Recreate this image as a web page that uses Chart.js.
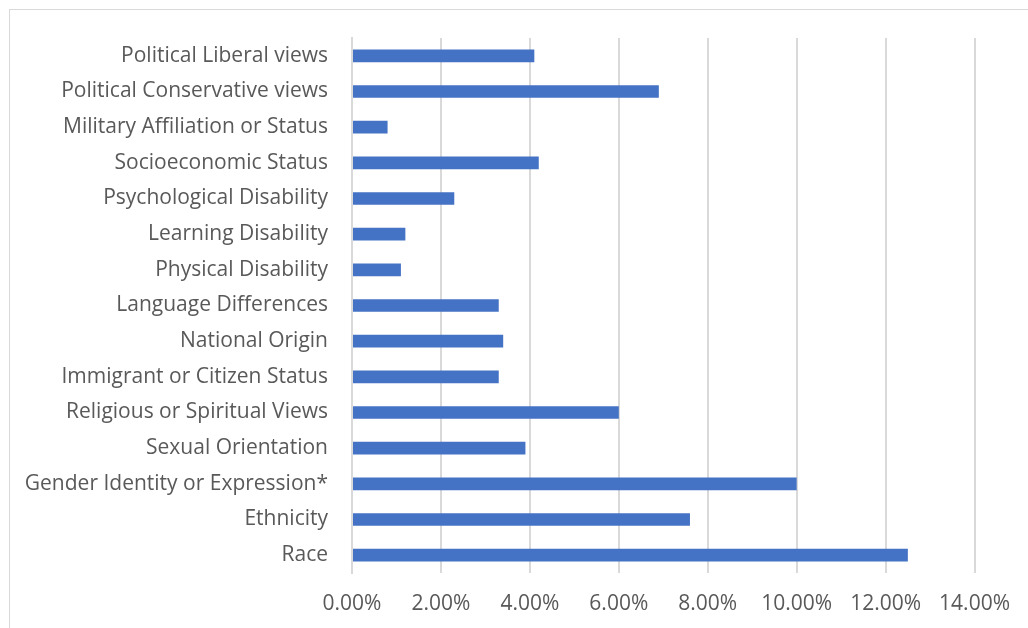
<!DOCTYPE html>
<html>
<head>
<meta charset="utf-8">
<script src="https://cdn.jsdelivr.net/npm/chart.js@4"></script>
<style>
    html, body { margin: 0; padding: 0; background: #ffffff; overflow: hidden; }
    .frame {
        position: absolute; left: 9px; top: 9px; width: 1100px; height: 700px;
        border: 1px solid #d9d9d9; box-sizing: border-box;
    }
    .chart-box { position: absolute; left: 0; top: 0; width: 1028px; height: 628px; }
</style>
</head>
<body>
<div class="frame"></div>
<div class="chart-box"><canvas id="bias_chart"></canvas></div>
<script>
const categories = [
    'Political Liberal views',
    'Political Conservative views',
    'Military Affiliation or Status',
    'Socioeconomic Status',
    'Psychological Disability',
    'Learning Disability',
    'Physical Disability',
    'Language Differences',
    'National Origin',
    'Immigrant or Citizen Status',
    'Religious or Spiritual Views',
    'Sexual Orientation',
    'Gender Identity or Expression*',
    'Ethnicity',
    'Race'
]

// percent of respondents
const percentages = [4.1, 6.9, 0.8, 4.2, 2.3, 1.2, 1.1, 3.3, 3.4, 3.3, 6.0, 3.9, 10.0, 7.6, 12.5]

const axisMax = 14
const axisStep = 2

const labelFont = { family: 'Open Sans', size: 21 }
const gridColor = '#d9d9d9'
const textColor = '#595959'

new Chart(document.getElementById('bias_chart'), {
    type: 'bar',
    data: {
        labels: categories,
        datasets: [{
            data: percentages,
            backgroundColor: '#4472c4',
            categoryPercentage: 1,
            barPercentage: 0.355
        }]
    },
    options: {
        indexAxis: 'y',
        responsive: true,
        maintainAspectRatio: false,
        animation: false,
        layout: { padding: { top: 38, right: 52, left: 0, bottom: 0 } },
        plugins: {
            legend: { display: false },
            tooltip: { enabled: false }
        },
        scales: {
            x: {
                min: 0,
                max: axisMax,
                ticks: {
                    stepSize: axisStep,
                    color: textColor,
                    font: labelFont,
                    padding: 18,
                    maxRotation: 0,
                    callback: value => value.toFixed(2) + '%'
                },
                grid: { color: gridColor, lineWidth: 2, drawTicks: false },
                border: { display: false },
                afterFit: scale => { scale.height = 55 }
            },
            y: {
                ticks: { color: textColor, font: labelFont, padding: 24 },
                grid: { display: false, drawTicks: false },
                border: { display: true, color: gridColor, width: 2 },
                afterFit: scale => { scale.width = 352 }
            }
        }
    }
})
</script>
</body>
</html>
